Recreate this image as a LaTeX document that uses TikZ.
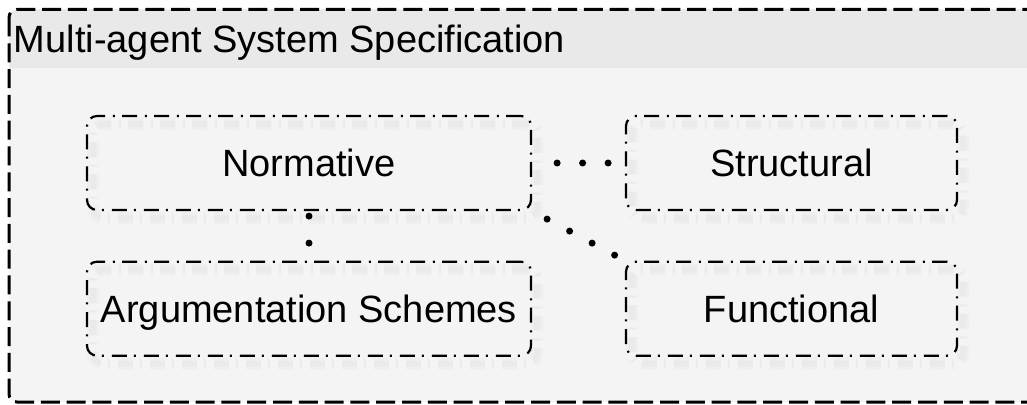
\documentclass[tikz,border=0pt]{standalone}
\usepackage{fontspec}
\setmainfont{Liberation Sans}
\definecolor{headgray}{HTML}{E9E9E9}
\definecolor{bodygray}{HTML}{F4F4F4}
\begin{document}
\begin{tikzpicture}[x=0.5pt,y=-0.5pt,
  labelfont/.style={font=\fontsize{19}{23}\selectfont},
  ghost/.style={preaction={draw=black, draw opacity=#1, line width=6pt,
      transform canvas={xshift=3pt,yshift=-4pt}}},
  part/.style={draw, line width=1.1pt, rounded corners=5pt,
    dash pattern=on 7.5pt off 3.6pt on 1pt off 3.9pt,
    minimum height=47pt, inner sep=0pt, labelfont,
    text height=13.6pt, text depth=0pt,
    ghost=0.018,
    preaction={draw=black, draw opacity=0.018, line width=3pt,
      transform canvas={xshift=3pt,yshift=-4pt}}},
  link/.style={line width=3.5pt, line cap=round, dash pattern=on 0pt off #1},
  link/.default=12.75pt]

\useasboundingbox (0,0) rectangle (1027,405);
\fill[white] (0,0) rectangle (1027,405);

% outer container with its title band
\begin{scope}
  \clip (0,0) rectangle (1027,405);
  \begin{scope}
    \clip[rounded corners=4pt] (9,9.5) rectangle (1045,402);
    \fill[bodygray] (0,0) rectangle (1050,405);
    \fill[headgray] (0,0) rectangle (1050,68);
  \end{scope}
  \draw[line width=1.5pt, dash pattern=on 9.5pt off 3.4pt, rounded corners=4pt]
    (9,9.5) rectangle (1045,402);
\end{scope}
\node[anchor=base west, inner sep=0pt, labelfont] (title) at (13.5,53)
  {Multi-agent System Specification};

% the four specification parts
\node[part, minimum width=222pt] (norm)   at (309,163)   {Normative};
\node[part, minimum width=165.5pt] (struct) at (791.5,163) {Structural};
\node[part, minimum width=222pt] (arg)    at (309,308.7) {Argumentation Schemes};
\node[part, minimum width=165.5pt] (func)   at (791.5,308.7) {Functional};

% dotted associations
\draw[link, shorten <=12.5pt, shorten >=6pt] (norm.east) -- (struct.west);
\draw[link, shorten <=8.5pt, shorten >=4pt] (norm.south east) -- (func.north west);
\draw[link=13.5pt, shorten <=2.5pt, shorten >=5pt] (norm.south) -- (arg.north);
\end{tikzpicture}
\end{document}
